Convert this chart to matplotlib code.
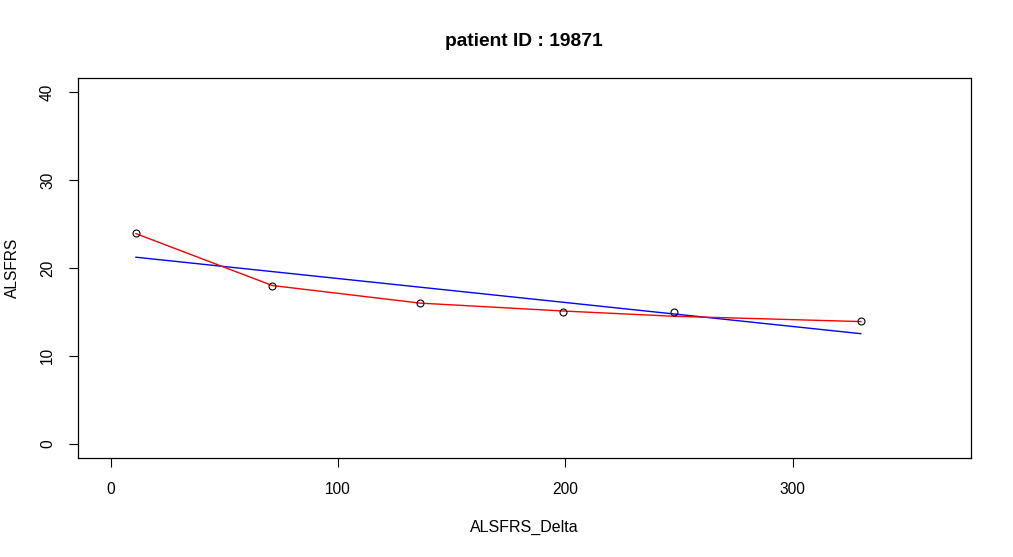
import numpy as np
import matplotlib
matplotlib.use("Agg")
from matplotlib import pyplot as plt

plt.rcParams["font.family"] = ["Liberation Sans", "DejaVu Sans"]

# observed scores
delta = [11, 71, 136, 199, 248, 330]
alsfrs = [24, 18, 16, 15, 15, 14]
# smoothed curve
smooth = [23.9, 18.0, 16.0, 15.1, 14.5, 13.9]

x_ticks = [0, 100, 200, 300]
y_ticks = [0, 10, 20, 30, 40]

fig = plt.figure(figsize=(10.13, 5.57), dpi=100)
ax = fig.add_axes([0.077, 0.1776, 0.8815, 0.6822])

# linear fit (blue)
slope, icept = np.polyfit(delta, alsfrs, 1)
xs = np.array([delta[0], delta[-1]])
ax.plot(xs, icept + slope * xs, color="blue", lw=1.0)

ax.plot(delta, smooth, color="red", lw=1.0)
ax.plot(delta, alsfrs, "o", mfc="none", mec="black", ms=5, mew=0.8)

ax.set_xlim(-14.5, 378.5)
ax.set_ylim(-1.63, 41.6)
ax.set_xticks(x_ticks)
ax.set_yticks(y_ticks)
ax.tick_params(direction="out", length=6.5, width=0.8, labelsize=11.2, pad=11)
ax.tick_params(axis="y", pad=10)
for lab in ax.get_yticklabels():
    lab.set_rotation(90)
    lab.set_va("center")
for s in ax.spines.values():
    s.set_linewidth(0.9)

fig.text(524 / 1013, 1 - 42 / 557, "patient ID : 19871", ha="center", va="center",
         fontsize=13.8, fontweight="bold")
fig.text(524 / 1013, 1 - 527 / 557, "ALSFRS_Delta", ha="center", va="center", fontsize=11.5)
fig.text(12 / 1013, 0.5196, "ALSFRS", ha="center", va="center", rotation=90, fontsize=11.2)

plt.savefig("out.png", dpi=100)
